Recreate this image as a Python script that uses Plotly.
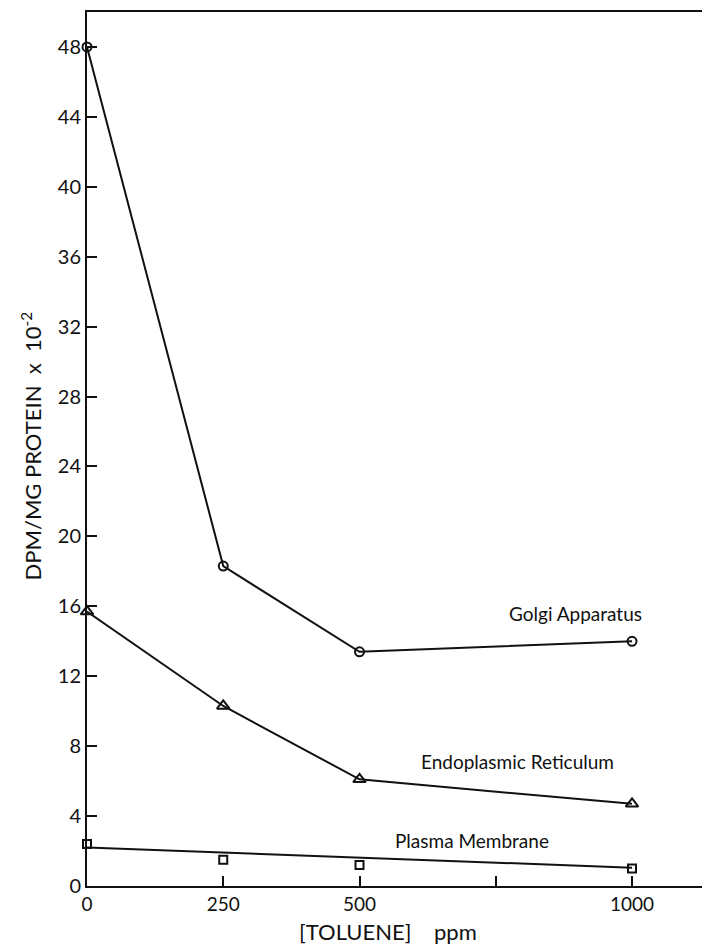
import plotly.graph_objects as go

# Toluene exposure levels (ppm)
toluene_ppm = [0, 250, 500, 1000]

# Specific activity, DPM/mg protein x 10^-2
golgi = [48.0, 18.3, 13.4, 14.0]
er = [15.7, 10.3, 6.1, 4.7]
plasma = [2.4, 1.5, 1.2, 1.0]

# Fitted trend drawn through the plasma membrane points
plasma_fit_x = [0, 1000]
plasma_fit_y = [2.2, 1.05]

x_tick_vals = [0, 250, 500, 1000]
x_tick_text = ["0", "250", "500", "1000"]
x_minor_vals = [750]
y_tick_vals = list(range(0, 49, 4))

FONT = "Lato, 'Liberation Sans', sans-serif"
BLACK = "#111111"

fig = go.Figure()

fig.add_trace(go.Scatter(
    x=toluene_ppm, y=golgi, mode="lines+markers",
    line=dict(color=BLACK, width=2),
    marker=dict(symbol="circle-open", size=9, color=BLACK, line=dict(width=2)),
    name="Golgi Apparatus", showlegend=False, cliponaxis=False,
))
fig.add_trace(go.Scatter(
    x=toluene_ppm, y=er, mode="lines+markers",
    line=dict(color=BLACK, width=2),
    marker=dict(symbol="triangle-up-open", size=11, color=BLACK, line=dict(width=2)),
    name="Endoplasmic Reticulum", showlegend=False, cliponaxis=False,
))
fig.add_trace(go.Scatter(
    x=plasma_fit_x, y=plasma_fit_y, mode="lines",
    line=dict(color=BLACK, width=2),
    showlegend=False, hoverinfo="skip", cliponaxis=False,
))
fig.add_trace(go.Scatter(
    x=toluene_ppm, y=plasma, mode="markers",
    marker=dict(symbol="square-open", size=8, color=BLACK, line=dict(width=2)),
    name="Plasma Membrane", showlegend=False, cliponaxis=False,
))

# Curve labels
labels = [
    ("Golgi Apparatus", 575, golgi[3] + 1.6),
    ("Endoplasmic Reticulum", 517, er[3] + 2.4),
    ("Plasma Membrane", 472, plasma[3] + 1.6),
]
for text, xpix, yval in labels:
    fig.add_annotation(
        x=(xpix - 87) / 0.545, y=yval, xref="x", yref="y",
        xanchor="center", yanchor="middle",
        text=text, showarrow=False,
        font=dict(family=FONT, size=19, color=BLACK),
    )

# Rotated y-axis title
fig.add_annotation(
    x=-0.091, y=0.503, xref="paper", yref="paper",
    xanchor="center", yanchor="middle",
    text="DPM/MG PROTEIN  x  10<sup>-2</sup>", textangle=-90,
    showarrow=False, font=dict(family=FONT, size=22, color=BLACK),
)

# x-axis title
fig.add_annotation(
    x=0.489, y=-0.0526, xref="paper", yref="paper",
    xanchor="center", yanchor="middle",
    text="[TOLUENE]&nbsp;&nbsp;&nbsp;&nbsp;ppm", showarrow=False,
    font=dict(family=FONT, size=22, color=BLACK),
)

fig.update_xaxes(
    range=[0, 1128.4], tickvals=x_tick_vals, ticktext=x_tick_text,
    ticks="inside", ticklen=10, tickwidth=2, tickcolor=BLACK,
    minor=dict(tickvals=x_minor_vals, ticks="inside", ticklen=10,
               tickwidth=2, tickcolor=BLACK, showgrid=False),
    showline=True, linewidth=2, linecolor=BLACK, mirror=True,
    showgrid=False, zeroline=False,
    tickfont=dict(family=FONT, size=19, color=BLACK),
)
fig.update_yaxes(
    range=[0, 50], tickvals=y_tick_vals,
    ticks="inside", ticklen=10, tickwidth=2, tickcolor=BLACK,
    showline=True, linewidth=2, linecolor=BLACK,
    showgrid=False, zeroline=False,
    tickfont=dict(family=FONT, size=20, color=BLACK),
)

fig.update_layout(
    width=702, height=949,
    margin=dict(l=87, r=0, t=12, b=63),
    plot_bgcolor="white", paper_bgcolor="white",
    font=dict(family=FONT, color=BLACK),
)

fig.write_html("out.html")
